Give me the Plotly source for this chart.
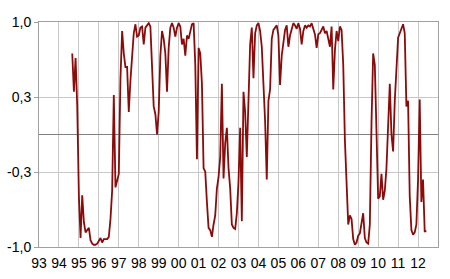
import plotly.graph_objects as go
import pandas as pd

# Monthly series, Sep 1994 .. Jun 2012
start_month = "1994-09-01"
values = [
    0.72, 0.38, 0.68, 0.25, -0.55, -0.92, -0.54, -0.78, -0.87, -0.85,
    -0.83, -0.94, -0.97, -0.98, -0.98, -0.97, -0.94, -0.92, -0.96, -0.93,
    -0.93, -0.93, -0.91, -0.75, -0.5, 0.35, -0.47, -0.40, -0.35, 0.5,
    0.92, 0.72, 0.6, 0.6, 0.2, 0.48, 0.7, 0.9, 0.98, 0.87,
    0.88, 0.95, 0.96, 0.8, 0.95, 0.97, 0.99, 0.96, 0.65, 0.25,
    0.18, 0.0, 0.2, 0.7, 0.92, 0.85, 0.72, 0.38, 0.77, 0.95,
    0.99, 0.95, 0.87, 0.95, 0.99, 0.96, 0.8, 0.85, 0.7, 0.88,
    0.85, 0.93, 0.98, 0.99, 0.62, -0.22, 0.77, 0.72, 0.45, -0.3,
    -0.33, -0.6, -0.83, -0.85, -0.91, -0.8, -0.72, -0.48, -0.38, -0.2,
    0.45, -0.39, -0.08, 0.06, -0.3, -0.48, -0.8, -0.83, -0.84, -0.7,
    -0.42, 0.06, -0.77, 0.38, 0.2, -0.2, 0.25, 0.8, 0.95, 0.5,
    0.9, 0.97, 0.99, 0.92, 0.78, 0.5, 0.12, -0.4, 0.3, 0.4,
    0.85, 0.93, 0.95, 0.97, 0.88, 0.44, 0.7, 0.82, 0.93, 0.97,
    0.78, 0.88, 0.95, 0.99, 0.97, 0.94, 0.99, 0.94, 0.8, 0.92,
    0.97, 0.95, 0.97, 0.96, 0.99, 0.94, 0.89, 0.77, 0.89, 0.9,
    0.93, 0.96, 0.9, 0.92, 0.85, 0.78, 0.96, 0.4, 0.75, 0.92,
    0.83, 0.96, 0.93, 0.62, -0.05, -0.5, -0.8, -0.72, -0.75, -0.93,
    -0.98, -0.96, -0.9, -0.88, -0.8, -0.7, -0.92, -0.96, -0.97, -0.8,
    0.1, 0.72, 0.62, -0.15, -0.57, -0.55, -0.35, -0.58, -0.5, -0.3,
    0.15, 0.45, 0.0, -0.15, 0.3, 0.55, 0.86, 0.9, 0.95, 0.98,
    0.9, 0.25, 0.3, -0.55, -0.85, -0.89, -0.87, -0.8, -0.4, 0.31,
    -0.6, -0.4, -0.86, -0.86,
]

years = list(range(1993, 2013))
year_labels = [f"{y % 100:02d}" for y in years]
y_tickvals = [-1.0, -1/3, 1/3, 1.0]
y_ticktext = ["-1,0", "-0,3", "0,3", "1,0"]

dates = pd.date_range(start_month, periods=len(values), freq="MS")
xdec = [d.year + (d.month - 1) / 12 for d in dates]

fig = go.Figure()
fig.add_trace(go.Scatter(
    x=xdec, y=values, mode="lines",
    line=dict(color="#8B0A0A", width=1.8),
    showlegend=False, hoverinfo="skip",
))

font = dict(family="Liberation Sans, Arial, sans-serif", size=14, color="#000000")
fig.update_layout(
    width=450, height=279,
    margin=dict(l=39, r=11.5, t=22.4, b=32, autoexpand=False),
    paper_bgcolor="white", plot_bgcolor="white",
    font=font,
    xaxis=dict(
        range=[1993, 2013], tickmode="array", tickvals=years, ticktext=year_labels,
        showgrid=True, gridcolor="#C8C8C8", gridwidth=1,
        showline=True, linecolor="#A0A0A0", linewidth=1, mirror=True,
        zeroline=False, ticks="outside", ticklen=3, tickcolor="rgba(0,0,0,0)",
        tickfont=font, automargin=False,
    ),
    yaxis=dict(
        range=[-1, 1], tickmode="array", tickvals=y_tickvals, ticktext=y_ticktext,
        showgrid=True, gridcolor="#C8C8C8", gridwidth=1,
        showline=True, linecolor="#A0A0A0", linewidth=1, mirror=True,
        zeroline=True, zerolinecolor="#808080", zerolinewidth=1,
        ticks="outside", ticklen=4, tickcolor="#A0A0A0", tickfont=font,
        automargin=False,
    ),
)

fig.write_html("out.html")
